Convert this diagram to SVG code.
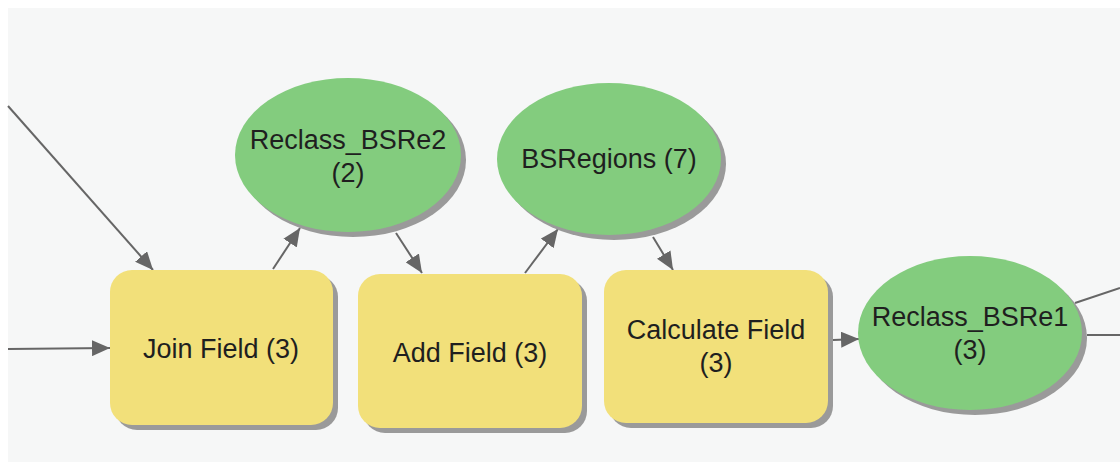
<svg xmlns="http://www.w3.org/2000/svg" width="1120" height="463" viewBox="0 0 1120 463">
  <style>
    .tool { fill: #F2E07A; }
    .data { fill: #83CC7E; }
    .shadow { fill: #9A9A9A; }
    .lbl { font-family: "Liberation Sans", Arial, sans-serif; font-size: 27px; fill: #1f1f1f; text-anchor: middle; }
    .conn { stroke: #666666; stroke-width: 2; fill: none; marker-end: url(#arrow); }
    .plain { stroke: #666666; stroke-width: 2; fill: none; }
  </style>
  <defs>
    <marker id="arrow" viewBox="0 0 18 16" refX="18" refY="8" markerWidth="18" markerHeight="16" markerUnits="userSpaceOnUse" orient="auto">
      <path d="M0,0 L18,8 L0,16 Z" fill="#666666"/>
    </marker>
  </defs>

  <rect x="0" y="0" width="1120" height="463" fill="#ffffff"/>
  <rect x="8" y="8" width="1112" height="454" fill="#F6F7F7"/>

  <g id="connectors">
    <line class="conn" x1="8" y1="106" x2="153" y2="270"/>
    <line class="conn" x1="8" y1="349" x2="110" y2="348"/>
    <line class="conn" x1="273" y1="269" x2="300" y2="228"/>
    <line class="conn" x1="396" y1="233" x2="422" y2="273"/>
    <line class="conn" x1="525" y1="273" x2="558" y2="229"/>
    <line class="conn" x1="653" y1="237" x2="673" y2="270"/>
    <line class="conn" x1="833" y1="340" x2="859" y2="339"/>
    <line class="plain" x1="1075" y1="303" x2="1120" y2="288"/>
    <line class="plain" x1="1087" y1="335" x2="1120" y2="335"/>
  </g>

  <g id="join-field">
    <rect class="shadow" x="115" y="275" width="223" height="155" rx="22"/>
    <rect class="tool" x="110" y="270" width="223" height="155" rx="22"/>
    <text class="lbl" x="221" y="358">Join Field (3)</text>
  </g>

  <g id="reclass-bsre2">
    <ellipse class="shadow" cx="353" cy="160" rx="113" ry="77"/>
    <ellipse class="data" cx="348" cy="155" rx="113" ry="77"/>
    <text class="lbl" x="348" y="149">Reclass_BSRe2</text>
    <text class="lbl" x="348" y="182">(2)</text>
  </g>

  <g id="add-field">
    <rect class="shadow" x="363" y="279" width="224" height="154" rx="22"/>
    <rect class="tool" x="358" y="274" width="224" height="154" rx="22"/>
    <text class="lbl" x="470" y="362">Add Field (3)</text>
  </g>

  <g id="bsregions">
    <ellipse class="shadow" cx="614" cy="164" rx="112" ry="76"/>
    <ellipse class="data" cx="609" cy="159" rx="112" ry="76"/>
    <text class="lbl" x="609" y="168">BSRegions (7)</text>
  </g>

  <g id="calculate-field">
    <rect class="shadow" x="609" y="275" width="224" height="153" rx="22"/>
    <rect class="tool" x="604" y="270" width="224" height="153" rx="22"/>
    <text class="lbl" x="716" y="339">Calculate Field</text>
    <text class="lbl" x="716" y="372">(3)</text>
  </g>

  <g id="reclass-bsre1">
    <ellipse class="shadow" cx="975" cy="338" rx="112" ry="77"/>
    <ellipse class="data" cx="970" cy="333" rx="112" ry="77"/>
    <text class="lbl" x="970" y="326">Reclass_BSRe1</text>
    <text class="lbl" x="970" y="359">(3)</text>
  </g>
</svg>
